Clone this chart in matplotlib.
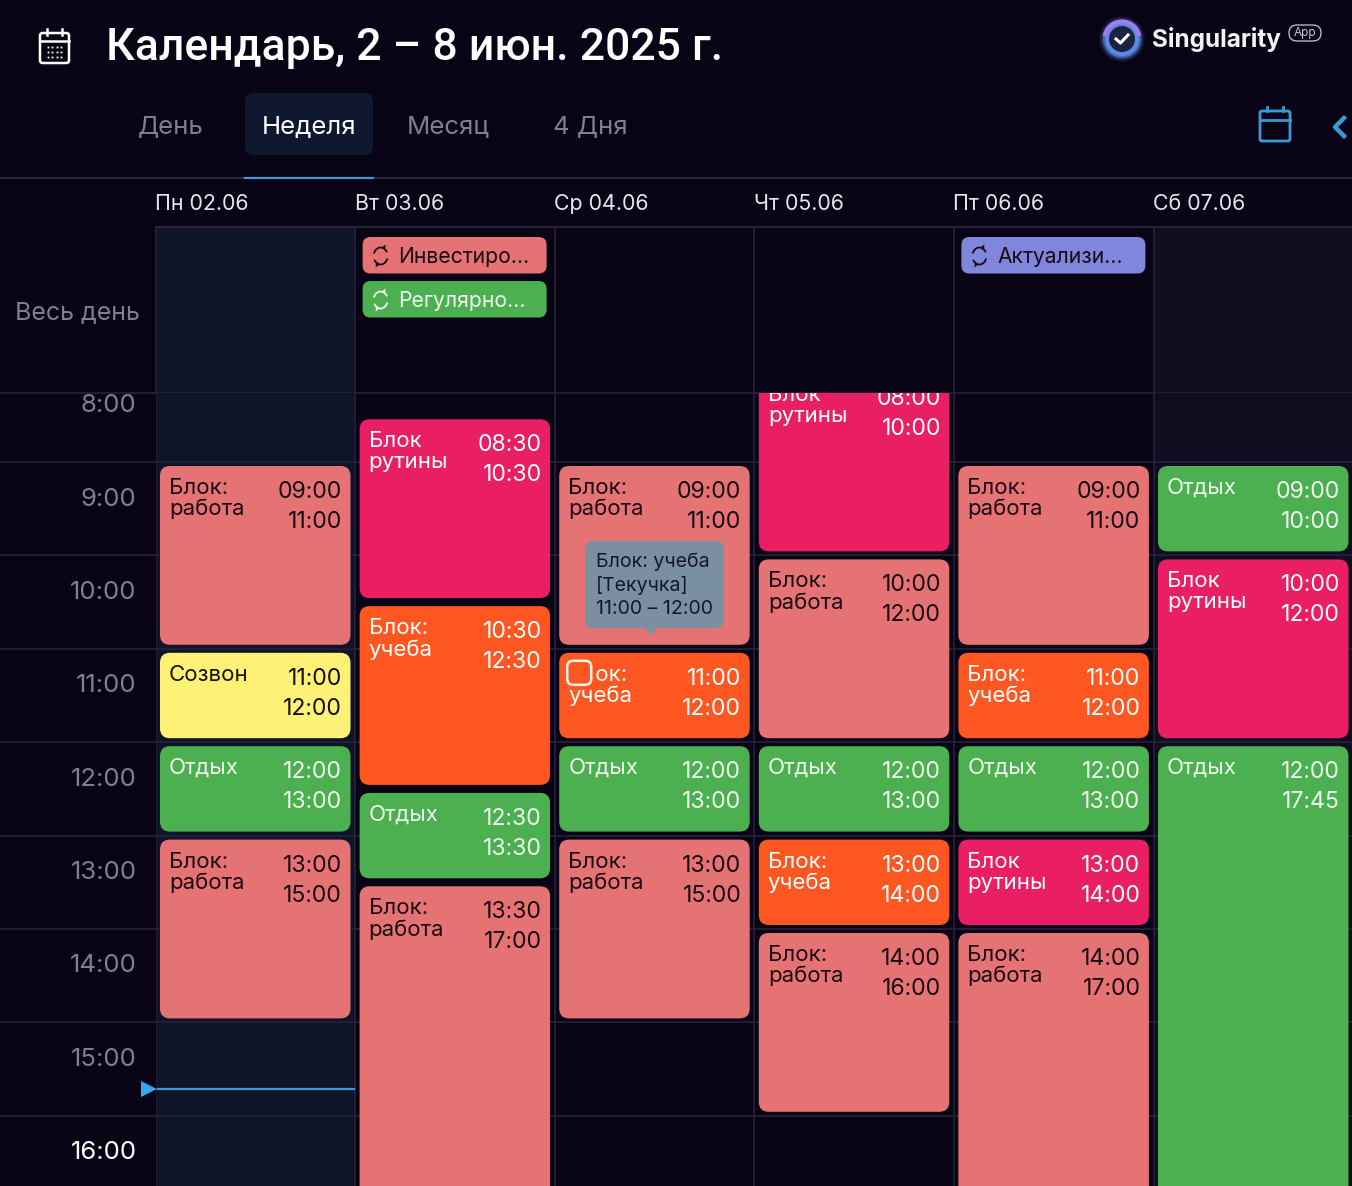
import matplotlib
matplotlib.use('Agg')
import matplotlib.pyplot as plt
from matplotlib.patches import FancyBboxPatch, Rectangle, Circle, Arc, Polygon

plt.rcParams['font.family'] = ['Inter', 'Noto Sans', 'DejaVu Sans']

W, H = 1352, 1186
BG = '#090316'
MON_BG = '#0e1529'
SAT_BG = '#110c1f'
GRID = '#25223a'
MUTED = '#7d808e'
DARK = '#1a0a14'
BLUE = '#3b9ad6'

DAY_W = 199.6
HOUR_H = 93.4
LEFT = 155.5
TOP_GRID = 393

title = 'Календарь, 2 – 8 июн. 2025 г.'
tabs = ['День', 'Неделя', 'Месяц', '4 Дня']
tab_x = [138, 262, 407, 553]
day_labels = ['Пн 02.06', 'Вт 03.06', 'Ср 04.06', 'Чт 05.06', 'Пт 06.06', 'Сб 07.06']
hours = [8, 9, 10, 11, 12, 13, 14, 15, 16]

colors = {'work': '#e57373', 'study': '#ff5722', 'routine': '#e91e63',
          'rest': '#4caf50', 'call': '#fff176', 'act': '#7f86dc'}
text_colors = {'work': DARK, 'study': 'white', 'routine': 'white',
               'rest': '#eef8ee', 'call': '#15120a', 'act': DARK}

ev_day = [0, 0, 0, 0,
          1, 1, 1, 1,
          2, 2, 2, 2,
          3, 3, 3, 3, 3,
          4, 4, 4, 4, 4,
          5, 5, 5]
ev_start = [9, 11, 12, 13,
            8.5, 10.5, 12.5, 13.5,
            9, 11, 12, 13,
            8, 10, 12, 13, 14,
            9, 11, 12, 13, 14,
            9, 10, 12]
ev_end = [11, 12, 13, 15,
          10.5, 12.5, 13.5, 17,
          11, 12, 13, 15,
          10, 12, 13, 14, 16,
          11, 12, 13, 14, 17,
          10, 12, 17.75]
ev_kind = ['work', 'call', 'rest', 'work',
           'routine', 'study', 'rest', 'work',
           'work', 'study', 'rest', 'work',
           'routine', 'work', 'rest', 'study', 'work',
           'work', 'study', 'rest', 'routine', 'work',
           'rest', 'routine', 'rest']
ev_title = ['Блок:\nработа', 'Созвон', 'Отдых', 'Блок:\nработа',
            'Блок\nрутины', 'Блок:\nучеба', 'Отдых', 'Блок:\nработа',
            'Блок:\nработа', 'Блок:\nучеба', 'Отдых', 'Блок:\nработа',
            'Блок\nрутины', 'Блок:\nработа', 'Отдых', 'Блок:\nучеба', 'Блок:\nработа',
            'Блок:\nработа', 'Блок:\nучеба', 'Отдых', 'Блок\nрутины', 'Блок:\nработа',
            'Отдых', 'Блок\nрутины', 'Отдых']
ev_from = ['09:00', '11:00', '12:00', '13:00',
           '08:30', '10:30', '12:30', '13:30',
           '09:00', '11:00', '12:00', '13:00',
           '08:00', '10:00', '12:00', '13:00', '14:00',
           '09:00', '11:00', '12:00', '13:00', '14:00',
           '09:00', '10:00', '12:00']
ev_to = ['11:00', '12:00', '13:00', '15:00',
         '10:30', '12:30', '13:30', '17:00',
         '11:00', '12:00', '13:00', '15:00',
         '10:00', '12:00', '13:00', '14:00', '16:00',
         '11:00', '12:00', '13:00', '14:00', '17:00',
         '10:00', '12:00', '17:45']

pill_day = [1, 1, 4]
pill_row = [0, 1, 0]
pill_text = ['Инвестиро…', 'Регулярно…', 'Актуализи…']
pill_kind = ['work', 'rest', 'act']

now_hour = 15.71


def rounded(ax, x0, y0, x1, y1, r, fc, ec='none', lw=0, aspect=1.0, **kw):
    box = FancyBboxPatch((x0, y0), x1 - x0, y1 - y0, boxstyle=f'round,pad=0,rounding_size={r}',
                         fc=fc, ec=ec, lw=lw, mutation_aspect=aspect, **kw)
    ax.add_patch(box)
    return box


def repeat_icon(ax, cx, cy, color):
    ax.add_patch(Arc((cx, cy), 14, 17, theta1=200, theta2=330, color=color, lw=1.3))
    ax.add_patch(Arc((cx, cy), 14, 17, theta1=20, theta2=150, color=color, lw=1.3))
    ax.add_patch(Polygon([(cx + 1, cy - 8.5), (cx + 5, cy - 11.5), (cx + 4.5, cy - 5.5)], fc=color, ec='none'))
    ax.add_patch(Polygon([(cx - 1, cy + 8.5), (cx - 5, cy + 11.5), (cx - 4.5, cy + 5.5)], fc=color, ec='none'))


def draw_header(ax):
    # calendar icon left of the title
    rounded(ax, 40, 33, 69, 63, 2.5, 'none', ec='white', lw=1.8)
    ax.plot([40, 69], [41, 41], color='white', lw=1.8)
    for x in (47, 62):
        ax.plot([x, x], [29, 35], color='white', lw=1.8)
    for y in (47, 52, 57):
        ax.plot([47.5, 52, 56.5, 61], [y] * 4, ls='none', marker='s', ms=1.3, color='white', mew=0)
    ax.text(106, 48, title, fontsize=32, family=['Roboto', 'DejaVu Sans'], fontweight='medium',
            color='white', va='center', ha='left')

    # logo
    for r, a in ((23, .10), (21, .25), (19, .6), (17, .9)):
        ax.add_patch(Circle((1122, 39), r, fc='#5f8eea', ec='none', alpha=a))
    ax.add_patch(Arc((1122, 39), 35, 35, theta1=190, theta2=350, color='#9f80e8', lw=3))
    ax.add_patch(Circle((1122, 39), 13, fc='#1c2340', ec='none'))
    ax.plot([1116, 1120.5, 1128], [39, 43, 35], color='white', lw=2.2)
    ax.text(1152, 39, 'Singularity', fontsize=17.5, fontweight='bold', color='#f2f2f4', va='center')
    rounded(ax, 1289, 25, 1321, 41, 8, 'none', ec='#c9c9cf', lw=0.9)
    ax.text(1305, 33, 'App', fontsize=8.5, color='#c9c9cf', va='center', ha='center')

    # view tabs
    rounded(ax, 245, 93, 373, 155, 9, '#101830')
    for label, x in zip(tabs, tab_x):
        ax.text(x, 127, label, fontsize=18.6, va='center', ha='left',
                color='white' if label == 'Неделя' else MUTED)
    ax.plot([0, W], [178, 178], color='#2a2740', lw=1.5)
    ax.plot([245, 373], [177.5, 177.5], color=BLUE, lw=1.6)

    # right-hand controls
    rounded(ax, 1260, 111, 1290, 141, 2, 'none', ec=BLUE, lw=2)
    ax.plot([1260, 1290], [120, 120], color=BLUE, lw=2)
    for x in (1267, 1283):
        ax.plot([x, x], [107, 111], color=BLUE, lw=2)
    ax.plot([1344, 1335, 1344], [118, 127, 136], color=BLUE, lw=3.2)

    for i, label in enumerate(day_labels):
        ax.text(LEFT - 0.5 + i * DAY_W, 204, label, fontsize=15.4, color='#e6e6ea', va='center', ha='left')


def draw_all_day(ax):
    ax.add_patch(Rectangle((LEFT, 227), DAY_W, TOP_GRID - 227, fc=MON_BG, ec='none'))
    ax.add_patch(Rectangle((LEFT + 5 * DAY_W, 227), DAY_W, TOP_GRID - 227, fc=SAT_BG, ec='none'))
    ax.plot([LEFT, W], [227, 227], color=GRID, lw=1.5)
    ax.plot([0, W], [TOP_GRID, TOP_GRID], color=GRID, lw=1.2)
    for i in range(6):
        x = LEFT + i * DAY_W
        ax.plot([x, x], [227, TOP_GRID], color=GRID, lw=1.2)
    ax.text(77, 313, 'Весь день', fontsize=18, color=MUTED, va='center', ha='center')
    for day, row, text, kind in zip(pill_day, pill_row, pill_text, pill_kind):
        x0 = LEFT + day * DAY_W + 7.5
        y0 = 237 + row * 44
        rounded(ax, x0, y0, x0 + 184, y0 + 36.5, 8, colors[kind])
        repeat_icon(ax, x0 + 18, y0 + 19, text_colors[kind])
        ax.text(x0 + 36, y0 + 20, text, fontsize=15.2, color=text_colors[kind], va='center', ha='left')


def draw_week(ax):
    px = 1 / DAY_W
    py = 1 / HOUR_H
    aspect = DAY_W / HOUR_H
    n_days = (W - LEFT) * px
    ymin = 9 - (462 - TOP_GRID) * py
    ymax = 9 + (H - 462) * py
    ax.set_xlim(0, n_days)
    ax.set_ylim(ymax, ymin)
    ax.axis('off')
    ax.axvspan(0, 1, color=MON_BG, lw=0, zorder=0)
    ax.axvspan(5, n_days, color=SAT_BG, lw=0, zorder=0)
    for h in hours[1:]:
        ax.axhline(h, color=GRID, lw=1.2, zorder=1)
    for i in range(6):
        ax.axvline(i, color=GRID, lw=1.2, zorder=1)

    for day, start, end, kind, name, t0, t1 in zip(ev_day, ev_start, ev_end, ev_kind, ev_title, ev_from, ev_to):
        x0 = day + 4.5 * px
        x1 = day + 195 * px
        y0 = start + 4 * py
        y1 = end - 4 * py
        rounded(ax, x0, y0, x1, y1, 10 * px, colors[kind], aspect=aspect, zorder=2)
        c = text_colors[kind]
        ax.text(x0 + 9 * px, y0 + 12 * py, name, fontsize=16, color=c, va='top', ha='left',
                linespacing=1.06, clip_on=True, zorder=3)
        ax.text(x1 - 8.5 * px, y0 + 26 * py, t0, fontsize=16.6, color=c, va='center', ha='right', clip_on=True, zorder=3)
        ax.text(x1 - 8.5 * px, y0 + 56 * py, t1, fontsize=16.6, color=c, va='center', ha='right', clip_on=True, zorder=3)

    # tooltip over Wednesday morning
    tip_x0, tip_x1 = 2 + 30.5 * px, 2 + 169 * px
    tip_y0, tip_y1 = 9 + 79 * py, 9 + 166 * py
    rounded(ax, tip_x0, tip_y0, tip_x1, tip_y1, 8 * px, '#7b8fa3', aspect=aspect, zorder=4)
    ax.add_patch(Polygon([(2 + 90 * px, tip_y1), (2 + 102 * px, tip_y1), (2 + 96.5 * px, tip_y1 + 7 * py)],
                         fc='#7b8fa3', ec='none', zorder=4))
    for i, line in enumerate(['Блок: учеба', '[Текучка]', '11:00 – 12:00']):
        ax.text(2 + 41 * px, 9 + (99.5 + i * 23.5) * py, line, fontsize=14.1, color='#12182a',
                va='center', ha='left', zorder=5)

    # drag checkbox on Wednesday study block
    ax.add_patch(Rectangle((2 + 12 * px, 11 + 8 * py), 29 * px, 30 * py, fc=colors['study'], ec='none', zorder=4))
    rounded(ax, 2 + 12.5 * px, 11 + 12 * py, 2 + 36.5 * px, 11 + 36 * py, 6 * px, colors['study'],
            ec='#fff3ec', lw=1.8, aspect=aspect, zorder=4)

    # current time
    ax.plot([2 * px, 198.5 * px], [now_hour, now_hour], color=BLUE, lw=1.6, zorder=3)
    ax.plot([-7 * px], [now_hour], marker='>', ms=11, color='#34a8ee', clip_on=False, zorder=3, mew=0)


def draw_hours(ax):
    for h in hours:
        y = 462 + (h - 9) * HOUR_H + 37
        if h == 8:
            y = TOP_GRID + 12
        ax.text(136.5, y, f'{h}:00', fontsize=18.5, va='center', ha='right',
                color='white' if h == 16 else MUTED)
    for h in hours[1:]:
        y = 462 + (h - 9) * HOUR_H
        ax.plot([0, LEFT], [y, y], color=GRID, lw=1.2)


def main():
    fig = plt.figure(figsize=(W / 100, H / 100), dpi=100, facecolor=BG)
    ax = fig.add_axes([0, 0, 1, 1])
    ax.set_xlim(0, W)
    ax.set_ylim(H, 0)
    ax.axis('off')
    draw_header(ax)
    draw_all_day(ax)
    draw_hours(ax)
    week = fig.add_axes([LEFT / W, 0, 1 - LEFT / W, 1 - TOP_GRID / H])
    week.patch.set_alpha(0)
    draw_week(week)
    fig.savefig('out.png', dpi=100, facecolor=BG)


if __name__ == '__main__':
    main()
